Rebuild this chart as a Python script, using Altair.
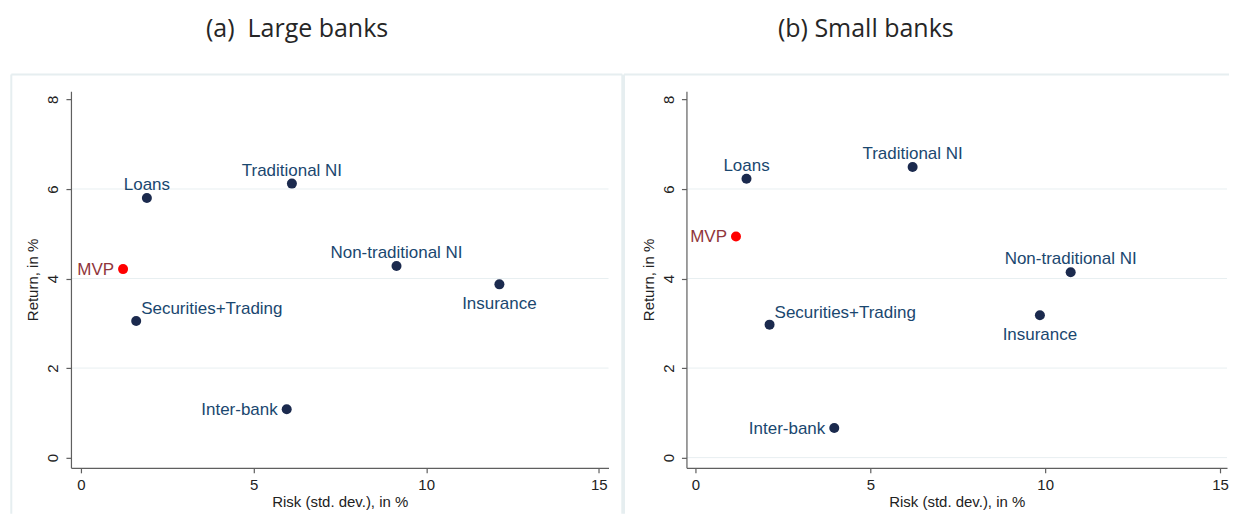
import altair as alt
import pandas as pd

# ---------------- data ----------------
ASSETS = ["Loans", "Traditional NI", "MVP", "Non-traditional NI",
          "Insurance", "Securities+Trading", "Inter-bank"]
LARGE_RISK = [1.91, 6.11, 1.22, 9.14, 12.12, 1.60, 5.96]
LARGE_RETURN = [5.80, 6.12, 4.21, 4.28, 3.87, 3.05, 1.08]
SMALL_RISK = [1.46, 6.21, 1.16, 10.73, 9.85, 2.12, 3.97]
SMALL_RETURN = [6.23, 6.49, 4.94, 4.14, 3.18, 2.97, 0.66]
PANEL_TITLES = ["(a)\u00a0\u00a0Large banks", "(b) Small banks"]
X_TICKS = [0, 5, 10, 15]
Y_TICKS = [0, 2, 4, 6, 8]
GRID_LARGE = [2, 4, 6]
GRID_SMALL = [0, 2, 4, 6]
X_TITLE = "Risk (std. dev.), in %"
Y_TITLE = "Return, in %"

# ---------------- style ----------------
NAVY_PT = "#1b2a4e"
NAVY_LBL = "#1a476f"
RED_PT = "#ff0000"
MAROON = "#90353b"
GRID_C = "#e8eff1"
BOX_C = "#e6eef0"
AXIS_C = "#5f5f5f"
TXT_C = "#222222"
FONT = "Liberation Sans"

LABEL_POS = {"Loans": "top", "Traditional NI": "top", "Non-traditional NI": "top",
             "Insurance": "bottom", "MVP": "left", "Inter-bank": "left",
             "Securities+Trading": "upright"}
POS_STYLE = {"top": dict(align="center", dx=0, dy=-8),
             "bottom": dict(align="center", dx=0, dy=25),
             "left": dict(align="right", dx=-9, dy=6),
             "upright": dict(align="left", dx=5, dy=-7)}

Y_DOMAIN = [-0.228, 8.185]
PLOT_H = 377
BOTTOM = 423  # page bottom edge (514) relative to plot top


def vline(x, y0, y1):
    return alt.Chart(alt.Data(values=[{"k": 1}])).mark_rule(
        color=BOX_C, strokeWidth=2).encode(
        x=alt.value(x), y=alt.value(y0), y2=alt.value(y1))


def hline(x0, x1, y):
    return alt.Chart(alt.Data(values=[{"k": 1}])).mark_rule(
        color=BOX_C, strokeWidth=2).encode(
        x=alt.value(x0), x2=alt.value(x1), y=alt.value(y))


def panel(risk, ret, title, title_x, grid_vals, x_domain, width,
          bg_x0, bg_x1, box_lines):
    df = pd.DataFrame({"asset": ASSETS, "risk": risk, "ret": ret})
    gdf = pd.DataFrame({"ret": grid_vals})

    X = alt.X("risk:Q", scale=alt.Scale(domain=x_domain, nice=False, zero=False),
              axis=alt.Axis(values=X_TICKS, title=X_TITLE, grid=False, zindex=1,
                            labelPadding=5, titlePadding=2))
    Y = alt.Y("ret:Q", scale=alt.Scale(domain=Y_DOMAIN, nice=False, zero=False),
              axis=alt.Axis(values=Y_TICKS, title=Y_TITLE, grid=False, zindex=1,
                            labelAngle=270, labelAlign="center",
                            labelBaseline="alphabetic", labelPadding=8,
                            titlePadding=5))

    one = alt.Data(values=[{"k": 1}])
    bg = alt.Chart(one).mark_rect(fill="white").encode(
        x=alt.value(bg_x0), x2=alt.value(bg_x1),
        y=alt.value(-83), y2=alt.value(BOTTOM))
    ttl = alt.Chart(one).mark_text(
        font="Open Sans", fontSize=25, color="#262626",
        align="center", baseline="alphabetic").encode(
        x=alt.value(title_x), y=alt.value(-54.3), text=alt.value(title))

    grid = alt.Chart(gdf).mark_rule(color=GRID_C, strokeWidth=1).encode(
        y=Y, x=alt.value(0), x2=alt.value(width))

    base = alt.Chart(df)
    is_mvp = alt.datum.asset == "MVP"
    pts = base.mark_circle(size=100, opacity=1).encode(
        x=X, y=Y,
        color=alt.condition(is_mvp, alt.value(RED_PT), alt.value(NAVY_PT)))

    layers = [bg] + box_lines + [ttl, grid, pts]
    for pos, st in POS_STYLE.items():
        names = [n for n, p in LABEL_POS.items() if p == pos]
        layers.append(
            base.transform_filter(alt.FieldOneOfPredicate(field="asset", oneOf=names))
            .mark_text(font=FONT, fontSize=17, baseline="alphabetic", **st)
            .encode(x=X, y=Y, text="asset:N",
                    color=alt.condition(is_mvp, alt.value(MAROON), alt.value(NAVY_LBL)))
        )

    return alt.layer(*layers).properties(width=width, height=PLOT_H)


# left plot origin on page: (70.7, 91); right plot origin: (687, 91)
left = panel(LARGE_RISK, LARGE_RETURN, PANEL_TITLES[0], 226.3, GRID_LARGE,
             [-0.289, 15.28], 538, -62.7, 553,
             [hline(-59.7, 551.8, -16.7), vline(-59.7, -16.7, BOTTOM),
              vline(551.8, -16.7, BOTTOM)])
right = panel(SMALL_RISK, SMALL_RETURN, PANEL_TITLES[1], 179.5, GRID_SMALL,
              [-0.257, 15.2], 541, -63, 543,
              [hline(-62.5, 543, -16.7), vline(-62.5, -16.7, BOTTOM)])

chart = alt.hconcat(left, right, spacing=78, bounds="flush").properties(
    padding=0
).configure_view(strokeWidth=0).configure_axis(
    domainColor=AXIS_C, domainWidth=1.2, tickColor=AXIS_C, tickSize=5, tickWidth=1.2,
    labelFont=FONT, labelFontSize=15, labelColor=TXT_C,
    titleFont=FONT, titleFontSize=15, titleFontWeight="normal", titleColor=TXT_C
)

chart.save("out.html", embed_options={"renderer": "svg", "actions": False})
